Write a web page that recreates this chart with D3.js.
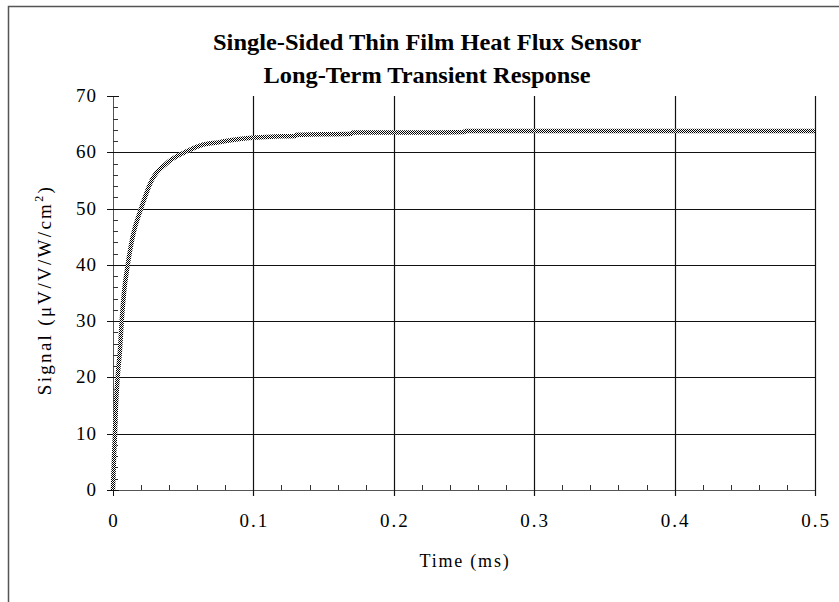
<!DOCTYPE html>
<html>
<head>
<meta charset="utf-8">
<script src="https://cdn.jsdelivr.net/npm/d3@7"></script>
<style>
  body { margin: 0; background: #fff; }
  text { font-family: "Liberation Serif", "Times New Roman", serif; fill: #000; }
</style>
</head>
<body>
<div class="chart"></div>
<script>
// values
var timeMs = [0, 0.0006, 0.0014, 0.0021, 0.0033, 0.005, 0.0062, 0.0078, 0.0105, 0.014, 0.020, 0.0275, 0.038,
  0.051, 0.062, 0.076, 0.085, 0.099, 0.115, 0.13, 0.131, 0.17, 0.171, 0.22, 0.25, 0.251, 0.3, 0.35, 0.4, 0.45, 0.5];
var signal = [0, 5, 10, 15, 20, 25, 30, 35, 40, 45, 50, 55, 58,
  60, 61.2, 61.8, 62.2, 62.6, 62.8, 62.9, 63.1, 63.3, 63.5, 63.5, 63.6, 63.8, 63.8, 63.8, 63.8, 63.8, 63.8];
var xTicks = [0, 0.1, 0.2, 0.3, 0.4, 0.5];
var yTicks = [0, 10, 20, 30, 40, 50, 60, 70];
var titleLines = ["Single-Sided Thin Film Heat Flux Sensor", "Long-Term Transient Response"];

var width = 839;
var height = 602;

var svg = d3.select(".chart").append("svg")
    .attr("width", width)
    .attr("height", height)
    .attr("display", "block")

// checkered pattern for the thick series line
var pat = svg.append("defs").append("pattern")
    .attr("id", "checker")
    .attr("patternUnits", "userSpaceOnUse")
    .attr("width", 2).attr("height", 2)
pat.append("rect").attr("width", 2).attr("height", 2).attr("fill", "#fff")
pat.append("rect").attr("width", 1).attr("height", 1).attr("fill", "#000")
pat.append("rect").attr("x", 1).attr("y", 1).attr("width", 1).attr("height", 1).attr("fill", "#000")

// outer frame (left and top edges only visible)
svg.append("path")
    .attr("d", "M8.5," + height + "V6.5H" + width)
    .attr("fill", "none")
    .attr("stroke", "#555")
    .attr("stroke-width", 1.5)

var x = d3.scaleLinear().domain([0, 0.5]).range([113, 815]);
var y = d3.scaleLinear().domain([0, 70]).range([490, 96]);

// gridlines
svg.selectAll(".hgrid").data(yTicks.filter(function(d){ return d > 0 && d < 70; }))
  .enter().append("line")
    .attr("x1", x(0)).attr("x2", x(0.5))
    .attr("y1", function(d){ return Math.round(y(d)) + 0.5; })
    .attr("y2", function(d){ return Math.round(y(d)) + 0.5; })
    .attr("stroke", "#111").attr("stroke-width", 1.2)

svg.selectAll(".vgrid").data(xTicks.filter(function(d){ return d > 0; }))
  .enter().append("line")
    .attr("x1", function(d){ return Math.round(x(d)) + 0.5; })
    .attr("x2", function(d){ return Math.round(x(d)) + 0.5; })
    .attr("y1", y(70)).attr("y2", y(0) + 6)
    .attr("stroke", "#111").attr("stroke-width", 1.2)

// axes lines
svg.append("line").attr("x1", x(0) + 0.5).attr("x2", x(0) + 0.5).attr("y1", y(70)).attr("y2", y(0))
    .attr("stroke", "#555").attr("stroke-width", 1)
svg.append("line").attr("x1", x(0)).attr("x2", x(0.5)).attr("y1", y(0) + 0.5).attr("y2", y(0) + 0.5)
    .attr("stroke", "#555").attr("stroke-width", 1)

// y ticks: major cross the axis, minor inside
svg.selectAll(".ymaj").data(yTicks).enter().append("line")
    .attr("x1", x(0) - 6).attr("x2", x(0) + 6)
    .attr("y1", function(d){ return Math.round(y(d)) + 0.5; })
    .attr("y2", function(d){ return Math.round(y(d)) + 0.5; })
    .attr("stroke", "#111")
svg.selectAll(".ymin").data(d3.range(2, 70, 2).filter(function(d){ return d % 10 !== 0; }))
  .enter().append("line")
    .attr("x1", x(0)).attr("x2", x(0) + 5)
    .attr("y1", function(d){ return Math.round(y(d)) + 0.5; })
    .attr("y2", function(d){ return Math.round(y(d)) + 0.5; })
    .attr("stroke", "#333")

// x ticks
svg.selectAll(".xmaj").data(xTicks).enter().append("line")
    .attr("x1", function(d){ return Math.round(x(d)) + 0.5; })
    .attr("x2", function(d){ return Math.round(x(d)) + 0.5; })
    .attr("y1", y(0) - 6).attr("y2", y(0) + 6)
    .attr("stroke", "#111")
svg.selectAll(".xmin").data(d3.range(1, 25).map(function(i){ return i * 0.02; }).filter(function(d, i){ return (i + 1) % 5 !== 0; }))
  .enter().append("line")
    .attr("x1", function(d){ return Math.round(x(d)) + 0.5; })
    .attr("x2", function(d){ return Math.round(x(d)) + 0.5; })
    .attr("y1", y(0) - 5).attr("y2", y(0))
    .attr("stroke", "#333")

// tick labels
svg.selectAll(".ylab").data(yTicks).enter().append("text")
    .attr("x", 97).attr("y", function(d){ return y(d) + 6; })
    .attr("text-anchor", "end")
    .attr("font-size", 19)
    .attr("letter-spacing", 1)
    .text(function(d){ return d; })
svg.selectAll(".xlab").data(xTicks).enter().append("text")
    .attr("x", function(d){ return x(d) + 1; }).attr("y", 527)
    .attr("text-anchor", "middle")
    .attr("font-size", 19)
    .attr("letter-spacing", 2)
    .text(function(d){ return d; })

// series
var pts = timeMs.map(function(t, i){ return [t, signal[i]]; });
var line = d3.line()
    .x(function(d){ return x(d[0]); })
    .y(function(d){ return y(d[1]); })
    .curve(d3.curveMonotoneX)
svg.append("path")
    .datum(pts)
    .attr("d", line)
    .attr("fill", "none")
    .attr("stroke", "url(#checker)")
    .attr("stroke-width", 4.5)

// titles
var titleWidths = [428, 327];
svg.selectAll(".title").data(titleLines).enter().append("text")
    .attr("x", 427).attr("y", function(d, i){ return 50 + i * 33; })
    .attr("text-anchor", "middle")
    .attr("font-size", 23)
    .attr("font-weight", "bold")
    .attr("textLength", function(d, i){ return titleWidths[i]; })
    .attr("lengthAdjust", "spacingAndGlyphs")
    .text(function(d){ return d; })

svg.append("text")
    .attr("x", 465).attr("y", 567)
    .attr("text-anchor", "middle")
    .attr("font-size", 18)
    .attr("letter-spacing", 1.8)
    .text("Time (ms)")

var ylab = svg.append("text")
    .attr("transform", "translate(51,290) rotate(-90)")
    .attr("text-anchor", "middle")
    .attr("font-size", 19)
    .attr("letter-spacing", 2.3)
ylab.append("tspan").text("Signal (\u03BCV/V/W/cm")
ylab.append("tspan").attr("font-size", 12).attr("dy", -8).text("2")
ylab.append("tspan").attr("dy", 8).text(")")
</script>
</body>
</html>
